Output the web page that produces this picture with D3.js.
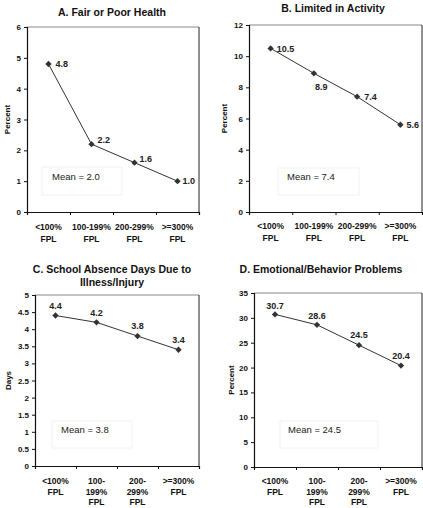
<!DOCTYPE html>
<html><head><meta charset="utf-8">
<script src="https://cdn.jsdelivr.net/npm/d3@7"></script>
<style>body{margin:0;background:#fff}svg{display:block}text{font-family:"Liberation Sans",Arial,sans-serif}</style>
</head><body><svg id="c" width="423" height="508"></svg>
<script>
const categories = ["<100%|FPL", "100-199%|FPL", "200-299%|FPL", ">=300%|FPL"];
const categoriesSplit = ["<100%|FPL", "100-|199%|FPL", "200-|299%|FPL", ">=300%|FPL"];
const valuesA = [4.8, 2.2, 1.6, 1.0];
const valuesB = [10.5, 8.9, 7.4, 5.6];
const valuesC = [4.4, 4.2, 3.8, 3.4];
const valuesD = [30.7, 28.6, 24.5, 20.4];
const ticksA = [0, 1, 2, 3, 4, 5, 6];
const ticksB = [0, 2, 4, 6, 8, 10, 12];
const ticksC = [0, 0.5, 1, 1.5, 2, 2.5, 3, 3.5, 4, 4.5, 5];
const ticksD = [0, 5, 10, 15, 20, 25, 30, 35];
const titles = [["A. Fair or Poor Health"], ["B. Limited in Activity"], ["C. School Absence Days Due to", "Illness/Injury"], ["D. Emotional/Behavior Problems"]];
const yLabels = ["Percent", "Percent", "Days", "Percent"];
const means = ["Mean = 2.0", "Mean = 7.4", "Mean = 3.8", "Mean = 24.5"];

const svg = d3.select("#c");

const panels = [
  {vals: valuesA, ticks: ticksA, cats: categories, title: titles[0], yl: yLabels[0], mean: means[0],
   x0: 27, x1: 199, yTop: 27, yBot: 212, tx: 112, ty: 16, ylx: 7, xly: 230, lh: 11.5,
   box: [42, 167, 80, 28], mx: 52, my: 177,
   lab: [[7, 0, "start"], [6, -4, "start"], [5, -4, "start"], [5, 0, "start"]]},
  {vals: valuesB, ticks: ticksB, cats: categories, title: titles[1], yl: yLabels[1], mean: means[1],
   x0: 249, x1: 422, yTop: 25, yBot: 212, tx: 333, ty: 12, ylx: 224, xly: 229, lh: 11.5,
   box: [278, 168, 81, 27], mx: 287, my: 177,
   lab: [[6, 0, "start"], [1, 14, "start"], [7, 0, "start"], [6, 0, "start"]]},
  {vals: valuesC, ticks: ticksC, cats: categoriesSplit, title: titles[2], yl: yLabels[2], mean: means[2],
   x0: 35, x1: 199, yTop: 295, yBot: 466, tx: 112, ty: 273, ylx: 8, xly: 484, lh: 10.6,
   box: [52, 421, 80, 27], mx: 61, my: 430,
   lab: [[0, -10, "middle"], [0, -10, "middle"], [0, -10, "middle"], [0, -10, "middle"]]},
  {vals: valuesD, ticks: ticksD, cats: categoriesSplit, title: titles[3], yl: yLabels[3], mean: means[3],
   x0: 254, x1: 422, yTop: 293, yBot: 467, tx: 321, ty: 273, ylx: 231, xly: 484, lh: 10.6,
   box: [280, 421, 98, 27], mx: 288, my: 430,
   lab: [[0, -9, "middle"], [0, -9, "middle"], [0, -10, "middle"], [0, -10, "middle"]]}
];

panels.forEach(p => {
  const g = svg.append("g");
  const x = d3.scalePoint().domain(p.cats).range([p.x0, p.x1]).padding(0.5);
  const xb = d3.scaleLinear().domain([0, p.cats.length]).range([p.x0, p.x1]);
  const y = d3.scaleLinear().domain([0, d3.max(p.ticks)]).range([p.yBot, p.yTop]);

  p.title.forEach((t, i) => g.append("text").attr("x", p.tx).attr("y", p.ty + i * 13)
    .attr("text-anchor", "middle").attr("font-size", 10.5).attr("font-weight", "bold").attr("fill", "#111").text(t));

  g.append("line").attr("x1", p.x0).attr("x2", p.x1).attr("y1", p.yTop).attr("y2", p.yTop).attr("stroke", "#888").attr("stroke-width", 1);
  g.append("line").attr("x1", p.x1).attr("x2", p.x1).attr("y1", p.yTop).attr("y2", p.yBot).attr("stroke", "#222").attr("stroke-width", 1);

  g.append("rect").attr("x", p.box[0]).attr("y", p.box[1]).attr("width", p.box[2]).attr("height", p.box[3])
    .attr("fill", "none").attr("stroke", "#f2f2f2").attr("stroke-width", 1);
  g.append("text").attr("x", p.mx).attr("y", p.my).attr("dy", "0.35em").attr("font-size", 9.5).attr("fill", "#222").text(p.mean);

  const ya = g.append("g").attr("transform", `translate(${p.x0},0)`)
    .call(d3.axisLeft(y).tickValues(p.ticks).tickSize(3).tickPadding(3).tickFormat(d3.format("")));
  ya.select(".domain").attr("stroke", "#111").attr("stroke-width", 1.2);
  ya.selectAll(".tick line").attr("stroke", "#111");
  ya.selectAll(".tick text").attr("font-size", 8).attr("font-weight", "bold").attr("fill", "#111")
    .attr("font-family", '"Liberation Sans",Arial,sans-serif');

  const xa = g.append("g").attr("transform", `translate(0,${p.yBot})`)
    .call(d3.axisBottom(xb).tickValues(d3.range(p.cats.length + 1)).tickSize(3).tickFormat(""));
  xa.select(".domain").attr("stroke", "#111").attr("stroke-width", 1.2);
  xa.selectAll(".tick line").attr("stroke", "#111");

  p.cats.forEach(c => {
    c.split("|").forEach((s, i) => g.append("text").attr("x", x(c)).attr("y", p.xly + i * p.lh)
      .attr("text-anchor", "middle").attr("font-size", 8.5).attr("font-weight", "bold").attr("fill", "#111").text(s));
  });

  g.append("text").attr("transform", `translate(${p.ylx},${(p.yTop + p.yBot) / 2}) rotate(-90)`)
    .attr("text-anchor", "middle").attr("dy", "0.35em").attr("font-size", 8).attr("font-weight", "bold").attr("fill", "#111").text(p.yl);

  const pts = p.vals.map((v, i) => [x(p.cats[i]), y(v)]);
  g.append("path").attr("d", d3.line()(pts)).attr("fill", "none").attr("stroke", "#333").attr("stroke-width", 1);
  const sym = d3.symbol(d3.symbolSquare, 20);
  pts.forEach(pt => g.append("path").attr("d", sym()).attr("transform", `translate(${pt[0]},${pt[1]}) rotate(45)`).attr("fill", "#333"));

  p.vals.forEach((v, i) => {
    const [dx, dy, anc] = p.lab[i];
    g.append("text").attr("x", pts[i][0] + dx).attr("y", pts[i][1] + dy).attr("dy", "0.35em")
      .attr("text-anchor", anc).attr("font-size", 9).attr("font-weight", "bold").attr("fill", "#222").text(v.toFixed(1));
  });
});
</script></body></html>
